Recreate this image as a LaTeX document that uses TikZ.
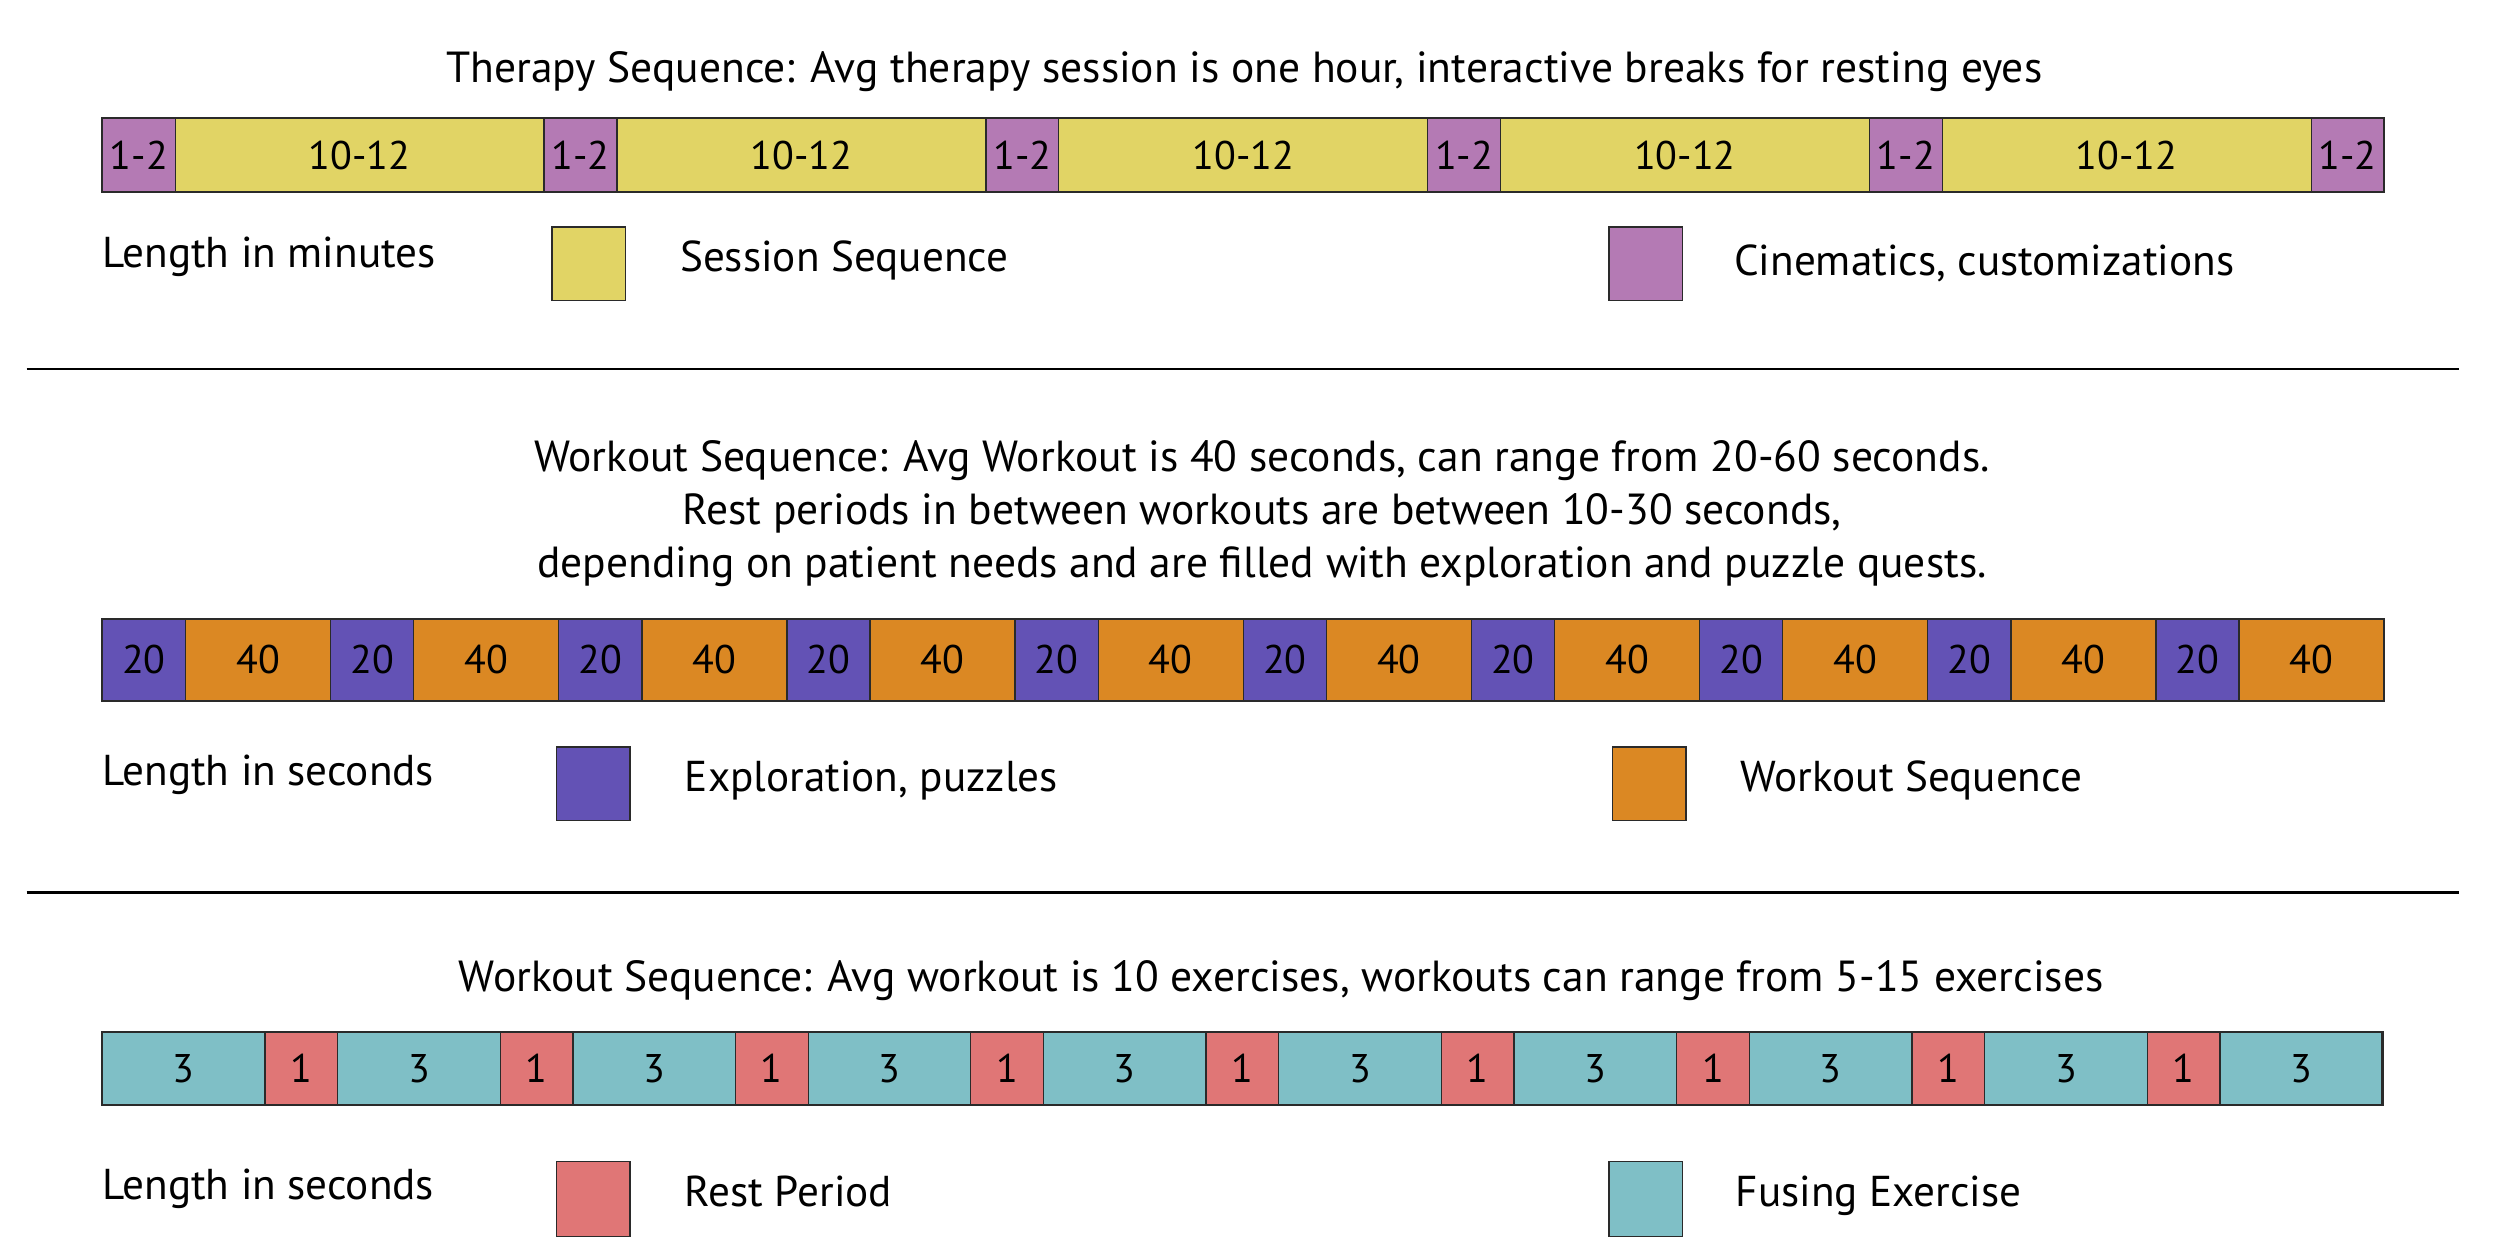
\documentclass[tikz,border=0pt]{standalone}
\usepackage{fontspec}
\setmainfont{PT Sans}
\definecolor{cyel}{HTML}{E1D465}
\definecolor{cpur}{HTML}{B47AB4}
\definecolor{cblu}{HTML}{6352B5}
\definecolor{cora}{HTML}{DB8823}
\definecolor{ctea}{HTML}{7FBFC6}
\definecolor{cred}{HTML}{E07676}
\definecolor{cline}{HTML}{2A2A2A}
\begin{document}
\begin{tikzpicture}[x=1bp,y=-1bp,
  seg/.style={draw=cline, line width=0.8bp, inner sep=0pt, outer sep=0pt, anchor=west,
    font=\fontsize{25bp}{30bp}\selectfont},
  frame/.style={draw=cline, line width=1.3bp},
  keybox/.style={draw=cline, line width=0.9bp, inner sep=0pt, outer sep=0pt,
    minimum width=46bp, minimum height=46bp, anchor=north west},
  title/.style={font=\fontsize{27.2bp}{33bp}\selectfont, align=center, inner sep=0pt},
  keytext/.style={font=\fontsize{27bp}{32bp}\selectfont, anchor=base west, inner sep=0pt},
  sep/.style={draw=black, line width=1.3bp}]
\useasboundingbox (0,0) rectangle (1563,786);

% ---------- Section 1 ----------
\node[title, anchor=base] (t1) at (778,51.7) {Therapy Sequence: Avg therapy session is one hour, interactive breaks for resting eyes};
\node[seg, fill=cpur, minimum width=45.6bp, minimum height=46bp] (a1) at (64,97) {1-2};
\foreach \i in {2,...,11}{
  \pgfmathtruncatemacro{\j}{\i-1}
  \pgfmathtruncatemacro{\odd}{mod(\i,2)}
  \ifnum\odd=1
    \node[seg, fill=cpur, minimum width=45.6bp, minimum height=46bp] (a\i) at (a\j.east) {1-2};
  \else
    \node[seg, fill=cyel, minimum width=230.58bp, minimum height=46bp] (a\i) at (a\j.east) {10-12};
  \fi
}
\draw[frame] (a1.north west) rectangle (a11.south east);
\node[keytext] (l1) at (64,167) {Length in minutes};
\node[keybox, fill=cyel] (k1a) at (345,142) {};
\node[keytext] (k1at) at (425,170) {Session Sequence};
\node[keybox, fill=cpur] (k1b) at (1006,142) {};
\node[keytext] (k1bt) at (1084,172) {Cinematics, customizations};

\coordinate (s1a) at (16.7,230.5);
\coordinate (s1b) at (1537.5,230.5);
\draw[sep] (s1a) -- (s1b);

% ---------- Section 2 ----------
\node[title, anchor=base] (t2) at (789,294.5) {Workout Sequence: Avg Workout is 40 seconds, can range from 20-60 seconds.};
\node[title, anchor=base] (t2b) at (789,328) {Rest periods in between workouts are between 10-30 seconds,};
\node[title, anchor=base] (t2c) at (789,361) {depending on patient needs and are filled with exploration and puzzle quests.};
\node[seg, fill=cblu, minimum width=52bp, minimum height=51bp] (b1) at (64,412.5) {20};
\foreach \i in {2,...,20}{
  \pgfmathtruncatemacro{\j}{\i-1}
  \pgfmathtruncatemacro{\odd}{mod(\i,2)}
  \ifnum\odd=1
    \node[seg, fill=cblu, minimum width=52bp, minimum height=51bp] (b\i) at (b\j.east) {20};
  \else
    \node[seg, fill=cora, minimum width=90.65bp, minimum height=51bp] (b\i) at (b\j.east) {40};
  \fi
}
\draw[frame] (b1.north west) rectangle (b20.south east);
\node[keytext] (l2) at (64,491) {Length in seconds};
\node[keybox, fill=cblu] (k2a) at (348,467) {};
\node[keytext] (k2at) at (428,495) {Exploration, puzzles};
\node[keybox, fill=cora] (k2b) at (1008,467) {};
\node[keytext] (k2bt) at (1088,495) {Workout Sequence};

\coordinate (s2a) at (16.7,558);
\coordinate (s2b) at (1537.5,558);
\draw[sep] (s2a) -- (s2b);

% ---------- Section 3 ----------
\node[title, anchor=base] (t3) at (801,620) {Workout Sequence: Avg workout is 10 exercises, workouts can range from 5-15 exercises};
\node[seg, fill=ctea, minimum width=101.6bp, minimum height=46bp] (c1) at (64,668) {3};
\foreach \i in {2,...,19}{
  \pgfmathtruncatemacro{\j}{\i-1}
  \pgfmathtruncatemacro{\odd}{mod(\i,2)}
  \ifnum\odd=1
    \node[seg, fill=ctea, minimum width=101.6bp, minimum height=46bp] (c\i) at (c\j.east) {3};
  \else
    \node[seg, fill=cred, minimum width=45.5bp, minimum height=46bp] (c\i) at (c\j.east) {1};
  \fi
}
\draw[frame] (c1.north west) rectangle (c19.south east);
\node[keytext] (l3) at (64,750) {Length in seconds};
\node[keybox, fill=cred, minimum height=47bp] (k3a) at (348,726) {};
\node[keytext] (k3at) at (428,754) {Rest Period};
\node[keybox, fill=ctea, minimum height=47bp] (k3b) at (1006,726) {};
\node[keytext] (k3bt) at (1085,754) {Fusing Exercise};
\end{tikzpicture}
\end{document}
